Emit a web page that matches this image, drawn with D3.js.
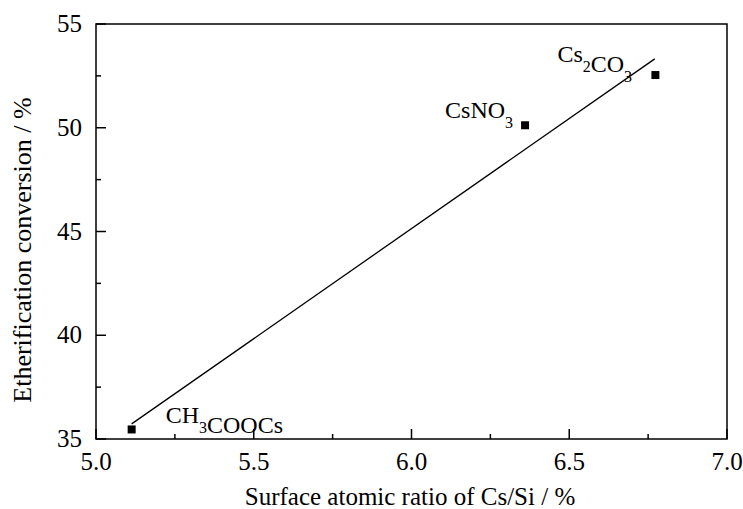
<!DOCTYPE html>
<html>
<head>
<meta charset="utf-8">
<script src="https://cdn.jsdelivr.net/npm/d3@7"></script>
<style>
body{margin:0;background:#fff;}
</style>
</head>
<body>
<div id="chart"></div>
<script>
// data
var salts=['CH3COOCs','CsNO3','Cs2CO3'];
var ratio=[5.113,6.36,6.773];
var conversion=[35.46,50.12,52.54];
// fitted line end points
var fitX=[5.113,6.771];
var fitY=[35.73,53.32];
var xTicks=[5.0,5.5,6.0,6.5,7.0];
var yTicks=[35,40,45,50,55];

var fontFam='"Liberation Serif", "Times New Roman", Times, "DejaVu Serif", serif';
var width=743,height=509;
var margin={left:96,top:24,right:16,bottom:70};
var plotW=width-margin.left-margin.right;
var plotH=height-margin.top-margin.bottom;

var svg=d3.select('#chart').append('svg')
    .attr('width',width)
    .attr('height',height)
    .attr('font-family',fontFam);

var g=svg.append('g').attr('transform','translate('+margin.left+','+margin.top+')');

var x=d3.scaleLinear().domain([5.0,7.0]).range([0,plotW]);
var y=d3.scaleLinear().domain([35,55]).range([plotH,0]);

// frame
g.append('rect')
    .attr('width',plotW)
    .attr('height',plotH)
    .style('fill','none')
    .style('stroke','#000')
    .style('stroke-width',1.5);

// x axis, ticks pointing inward
var xMinor=d3.range(5.25,7.0,0.5);
g.selectAll('.xmaj').data(xTicks).enter().append('line')
    .attr('x1',function(d){return x(d);})
    .attr('x2',function(d){return x(d);})
    .attr('y1',plotH)
    .attr('y2',plotH-10)
    .style('stroke','#000').style('stroke-width',1.5);
g.selectAll('.xmin').data(xMinor).enter().append('line')
    .attr('x1',function(d){return x(d);})
    .attr('x2',function(d){return x(d);})
    .attr('y1',plotH)
    .attr('y2',plotH-5)
    .style('stroke','#000').style('stroke-width',1.5);
g.selectAll('.xlab').data(xTicks).enter().append('text')
    .attr('x',function(d){return x(d);})
    .attr('y',plotH+31)
    .attr('text-anchor','middle')
    .attr('font-family',fontFam)
    .style('font-size','25px')
    .text(function(d){return d.toFixed(1);});

// y axis
var yMinor=d3.range(37.5,55,5);
g.selectAll('.ymaj').data(yTicks).enter().append('line')
    .attr('x1',0)
    .attr('x2',10)
    .attr('y1',function(d){return y(d);})
    .attr('y2',function(d){return y(d);})
    .style('stroke','#000').style('stroke-width',1.5);
g.selectAll('.ymin').data(yMinor).enter().append('line')
    .attr('x1',0)
    .attr('x2',5)
    .attr('y1',function(d){return y(d);})
    .attr('y2',function(d){return y(d);})
    .style('stroke','#000').style('stroke-width',1.5);
g.selectAll('.ylab').data(yTicks).enter().append('text')
    .attr('x',-14)
    .attr('y',function(d){return y(d)+8;})
    .attr('text-anchor','end')
    .attr('font-family',fontFam)
    .style('font-size','25px')
    .text(function(d){return d;});

// axis titles
svg.append('text')
    .attr('x',410)
    .attr('y',505)
    .attr('text-anchor','middle')
    .attr('font-family',fontFam)
    .style('font-size','25px')
    .text('Surface atomic ratio of Cs/Si / %');
svg.append('text')
    .attr('transform','translate(31,250) rotate(-90)')
    .attr('text-anchor','middle')
    .attr('font-family',fontFam)
    .style('font-size','26px')
    .text('Etherification conversion / %');

// fit line
g.append('line')
    .attr('x1',x(fitX[0])).attr('y1',y(fitY[0]))
    .attr('x2',x(fitX[1])).attr('y2',y(fitY[1]))
    .style('stroke','#000').style('stroke-width',1.3);

// points
g.selectAll('.pt').data(ratio).enter().append('rect')
    .attr('x',function(d){return x(d)-4;})
    .attr('y',function(d,i){return y(conversion[i])-4;})
    .attr('width',8)
    .attr('height',8)
    .style('fill','#000');

// labels with subscripts
function chemLabel(parts,px,py){
    var t=g.append('text').attr('x',px).attr('y',py)
        .attr('font-family',fontFam).style('font-size','24px');
    parts.forEach(function(p){
        if(p.sub){
            t.append('tspan').attr('dy',10).style('font-size','16px').text(p.s);
            t.append('tspan').attr('dy',-10).text('');
        } else {
            t.append('tspan').text(p.s);
        }
    });
}
chemLabel([{s:'CH'},{s:'3',sub:true},{s:'COOCs'}],x(ratio[0])+34,y(conversion[0])-6);
chemLabel([{s:'CsNO'},{s:'3',sub:true}],x(ratio[1])-80,y(conversion[1])-7);
chemLabel([{s:'Cs'},{s:'2',sub:true},{s:'CO'},{s:'3',sub:true}],x(ratio[2])-98,y(conversion[2])-13);
</script>
</body>
</html>
